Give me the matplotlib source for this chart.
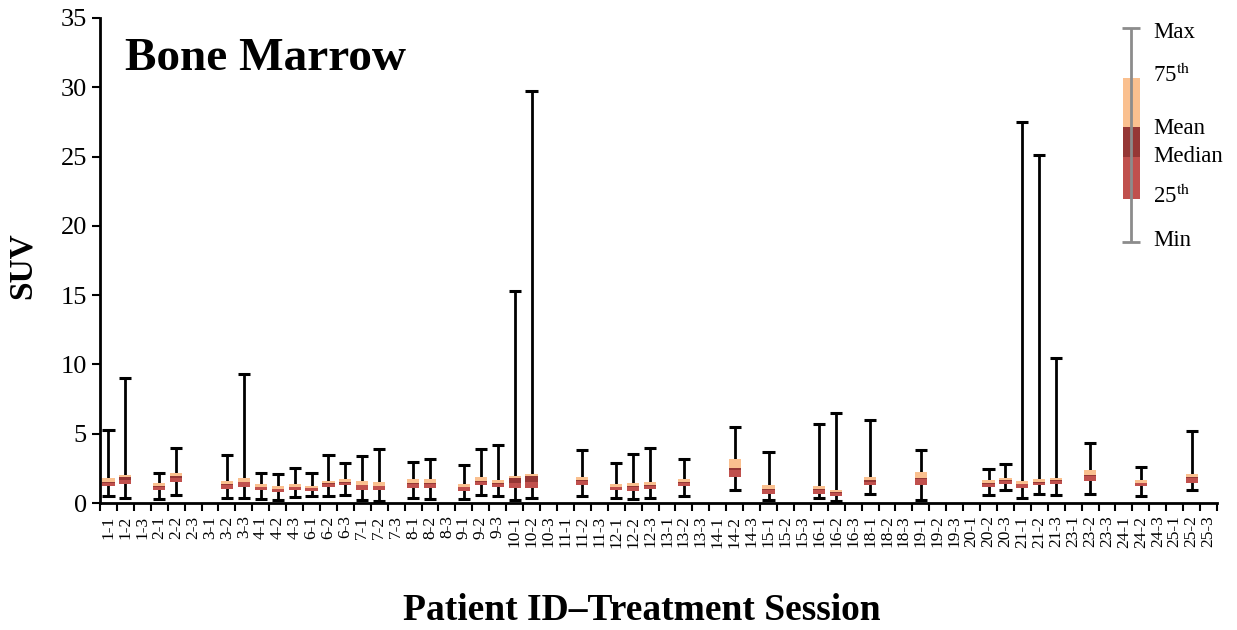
import numpy as np
import matplotlib
matplotlib.use("Agg")
import matplotlib.pyplot as plt

plt.rcParams['font.family'] = ['Liberation Serif', 'DejaVu Serif']
plt.rcParams['mathtext.fontset'] = 'stix'

# patient-session labels
sessions = ['1-1', '1-2', '1-3', '2-1', '2-2', '2-3', '3-1', '3-2', '3-3',
            '4-1', '4-2', '4-3', '6-1', '6-2', '6-3', '7-1', '7-2', '7-3',
            '8-1', '8-2', '8-3', '9-1', '9-2', '9-3', '10-1', '10-2', '10-3',
            '11-1', '11-2', '11-3', '12-1', '12-2', '12-3', '13-1', '13-2', '13-3',
            '14-1', '14-2', '14-3', '15-1', '15-2', '15-3', '16-1', '16-2', '16-3',
            '18-1', '18-2', '18-3', '19-1', '19-2', '19-3', '20-1', '20-2', '20-3',
            '21-1', '21-2', '21-3', '23-1', '23-2', '23-3', '24-1', '24-2', '24-3',
            '25-1', '25-2', '25-3']

N = np.nan
suv_min = [0.53, 0.39, N, 0.31, 0.60, N, N, 0.34, 0.38,
           0.29, 0.24, 0.43, 0.48, 0.53, 0.58, 0.24, 0.17, N,
           0.34, 0.29, N, 0.29, 0.55, 0.50, 0.19, 0.38, N,
           N, 0.50, N, 0.38, 0.29, 0.34, N, 0.50, N,
           N, 0.91, N, 0.19, N, N, 0.36, 0.14, N,
           0.67, N, N, 0.24, N, N, N, 0.58, 0.96,
           0.34, 0.63, 0.55, N, 0.63, N, N, 0.50, N,
           N, 0.94, N]
suv_q1 = [1.25, 1.40, N, 0.96, 1.54, N, N, 1.01, 1.18,
          0.94, 0.79, 0.96, 0.89, 1.18, 1.27, 0.96, 0.91, N,
          1.06, 1.06, N, 0.89, 1.32, 1.15, 1.06, 1.11, N,
          N, 1.30, N, 0.91, 0.89, 1.01, N, 1.25, N,
          N, 1.86, N, 0.67, N, N, 0.67, 0.48, N,
          1.30, N, N, 1.30, N, N, N, 1.13, 1.40,
          1.11, 1.27, 1.35, N, 1.61, N, N, 1.23, N,
          N, 1.42, N]
suv_median = [1.44, 1.66, N, 1.15, 1.83, N, N, 1.30, 1.49,
              1.13, 0.99, 1.13, 1.06, 1.37, 1.47, 1.27, 1.20, N,
              1.35, 1.35, N, 1.13, 1.54, 1.40, 1.44, 1.54, N,
              N, 1.59, N, 1.13, 1.15, 1.25, N, 1.44, N,
              N, 2.38, N, 0.96, N, N, 0.96, 0.75, N,
              1.54, N, N, 1.73, N, N, N, 1.37, 1.59,
              1.35, 1.47, 1.57, N, 1.95, N, N, 1.42, N,
              N, 1.78, N]
suv_mean = [1.54, 1.90, N, 1.23, 1.92, N, N, 1.35, 1.54,
            1.18, 1.03, 1.18, 1.11, 1.42, 1.54, 1.32, 1.25, N,
            1.42, 1.42, N, 1.18, 1.61, 1.44, 1.83, 1.97, N,
            N, 1.63, N, 1.18, 1.23, 1.30, N, 1.49, N,
            N, 2.50, N, 1.01, N, N, 1.01, 0.82, N,
            1.66, N, N, 1.78, N, N, N, 1.44, 1.64,
            1.40, 1.54, 1.64, N, 2.02, N, N, 1.47, N,
            N, 1.88, N]
suv_q3 = [1.78, 2.02, N, 1.42, 2.14, N, N, 1.59, 1.83,
          1.37, 1.20, 1.35, 1.23, 1.61, 1.73, 1.59, 1.49, N,
          1.73, 1.73, N, 1.35, 1.85, 1.68, 1.92, 2.09, N,
          N, 1.90, N, 1.35, 1.42, 1.49, N, 1.73, N,
          N, 3.15, N, 1.28, N, N, 1.23, 0.94, N,
          1.85, N, N, 2.24, N, N, N, 1.64, 1.83,
          1.59, 1.73, 1.83, N, 2.38, N, N, 1.66, N,
          N, 2.07, N]
suv_max = [5.3, 9.0, N, 2.2, 4.0, N, N, 3.5, 9.3,
           2.2, 2.1, 2.5, 2.2, 3.5, 2.9, 3.4, 3.9, N,
           2.95, 3.2, N, 2.75, 3.9, 4.2, 15.3, 29.7, N,
           N, 3.8, N, 2.9, 3.55, 4.0, N, 3.2, N,
           N, 5.5, N, 3.7, N, N, 5.7, 6.5, N,
           6.0, N, N, 3.8, N, N, N, 2.45, 2.85,
           27.5, 25.1, 10.5, N, 4.3, N, N, 2.6, N,
           N, 5.2, N]

c_light = '#FAC08F'
c_dark = '#953735'
c_red = '#C0504D'

x = np.arange(len(sessions))
lo = np.array(suv_q1)
mid_a = np.fmin(suv_median, suv_mean)
mid_b = np.fmax(suv_median, suv_mean)
hi = np.array(suv_q3)

fig = plt.figure(figsize=(12.37, 6.3), dpi=100)
ax = fig.add_axes([100/1237, 127/630, 1117/1237, 485/630])

# whiskers
ax.vlines(x, suv_min, suv_max, color='black', lw=2, zorder=2)
ax.hlines(suv_min, x - 0.36, x + 0.36, color='black', lw=2.2, zorder=2)
ax.hlines(suv_max, x - 0.36, x + 0.36, color='black', lw=2.2, zorder=2)

# boxes
w = 0.72
ax.bar(x, mid_a - lo, bottom=lo, width=w, color=c_red, zorder=3)
ax.bar(x, mid_b - mid_a, bottom=mid_a, width=w, color=c_dark, zorder=3)
ax.bar(x, hi - mid_b, bottom=mid_b, width=w, color=c_light, zorder=3)

ax.set_xlim(-0.5, len(sessions) - 0.5)
ax.set_ylim(0, 35)
ax.set_yticks(np.arange(0, 36, 5))
ax.set_xticks(x)
ax.set_xticklabels(sessions, rotation=90, fontsize=12.5)
ax.set_xticks(np.arange(-0.5, len(sessions), 1), minor=True)
ax.tick_params(axis='x', which='major', length=0, pad=9)
ax.tick_params(axis='x', which='minor', length=6, width=1.5, direction='out')
ax.tick_params(axis='y', labelsize=19, length=6, width=1.5)
for s in ['top', 'right']:
    ax.spines[s].set_visible(False)
ax.spines['left'].set_linewidth(2)
ax.spines['bottom'].set_linewidth(2)

ax.text(25/1117, (503-70)/485, 'Bone Marrow', transform=ax.transAxes,
        fontsize=34, fontweight='bold', va='baseline', ha='left')
fig.text(22/1237, 1 - 266/630, 'SUV', rotation=90, fontsize=24,
         fontweight='bold', ha='center', va='center')
fig.text(642/1237, 1 - 610/630, 'Patient ID\u2013Treatment Session', fontsize=27,
         fontweight='bold', ha='center', va='center')

# legend drawn as a small key box
lax = fig.add_axes([1100/1237, 1 - 255/630, 137/1237, 240/630])
lax.set_xlim(1100, 1237)
lax.set_ylim(255, 15)
lax.axis('off')
lax.vlines(1131, 28, 242, color='#8C8C8C', lw=2)
lax.hlines([28, 242], 1122, 1140, color='#8C8C8C', lw=2)
lax.bar(1131, 127 - 78, bottom=78, width=17, color=c_light)
lax.bar(1131, 157 - 127, bottom=127, width=17, color=c_dark)
lax.bar(1131, 199 - 157, bottom=157, width=17, color=c_red)
key_labels = ['Max', r'75$^{\rm th}$', 'Mean', 'Median', r'25$^{\rm th}$', 'Min']
key_y = [33, 75, 128, 157, 196, 240]
for lab, yy in zip(key_labels, key_y):
    lax.text(1153, yy, lab, fontsize=16.5, va='center', ha='left')

fig.savefig('out.png', dpi=100)
